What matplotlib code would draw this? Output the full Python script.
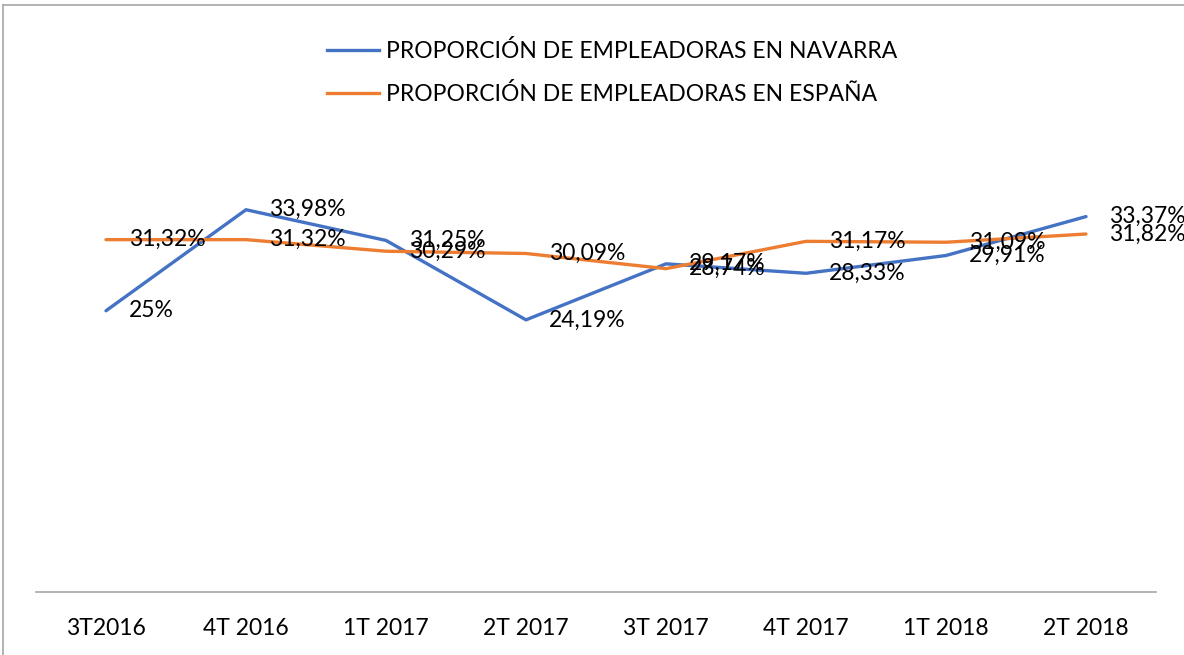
import matplotlib.pyplot as plt
from matplotlib.lines import Line2D

trimestres = ["3T2016", "4T 2016", "1T 2017", "2T 2017", "3T 2017", "4T 2017", "1T 2018", "2T 2018"]
navarra = [25.00, 33.98, 31.25, 24.19, 29.17, 28.33, 29.91, 33.37]
espana = [31.32, 31.32, 30.29, 30.09, 28.74, 31.17, 31.09, 31.82]
etiquetas_navarra = ["25%", "33,98%", "31,25%", "24,19%", "29,17%", "28,33%", "29,91%", "33,37%"]
etiquetas_espana = ["31,32%", "31,32%", "30,29%", "30,09%", "28,74%", "31,17%", "31,09%", "31,82%"]

plt.rcParams['font.family'] = ['Lato', 'DejaVu Sans']

azul = "#4472C4"
naranja = "#ED7D31"
fs = 16.5

fig = plt.figure(figsize=(11.84, 6.55), dpi=100)
ax = fig.add_axes([36 / 1184, 1 - 592 / 655, 1120 / 1184, 450 / 655])

x = list(range(len(trimestres)))
ax.plot(x, navarra, color=azul, lw=2.4, solid_capstyle='round')
ax.plot(x, espana, color=naranja, lw=2.4, solid_capstyle='round')

# etiquetas de datos a la derecha de cada punto
for xi, v, t in zip(x, navarra, etiquetas_navarra):
    ax.annotate(t, (xi, v), xytext=(23, 0), textcoords='offset pixels',
                ha='left', va='center', fontsize=fs, color='black')
for xi, v, t in zip(x, espana, etiquetas_espana):
    ax.annotate(t, (xi, v), xytext=(23, 0), textcoords='offset pixels',
                ha='left', va='center', fontsize=fs, color='black')

ax.set_xlim(-0.5, len(trimestres) - 0.5)
ax.set_ylim(0, 40)
ax.set_xticks(x)
ax.set_xticklabels(trimestres, fontsize=fs)
ax.tick_params(axis='x', length=0, pad=19)
ax.set_yticks([])
for s in ['top', 'left', 'right']:
    ax.spines[s].set_visible(False)
ax.spines['bottom'].set_color('#A6A6A6')
ax.spines['bottom'].set_linewidth(1.2)

handles = [Line2D([], [], color=azul, lw=2.4), Line2D([], [], color=naranja, lw=2.4)]
fig.legend(handles, ["PROPORCIÓN DE EMPLEADORAS EN NAVARRA", "PROPORCIÓN DE EMPLEADORAS EN ESPAÑA"],
           loc='upper left', bbox_to_anchor=(306 / 1184, 1 - 19 / 655), frameon=False,
           fontsize=fs, handlelength=2.3, handletextpad=0.27, labelspacing=0.95)

# borde del gráfico
fig.add_artist(plt.Line2D([3 / 1184, 3 / 1184], [0, 1 - 5 / 655], color='#A6A6A6', lw=1.2))
fig.add_artist(plt.Line2D([3 / 1184, 1], [1 - 5 / 655, 1 - 5 / 655], color='#A6A6A6', lw=1.2))

fig.savefig("out.png", dpi=100)
